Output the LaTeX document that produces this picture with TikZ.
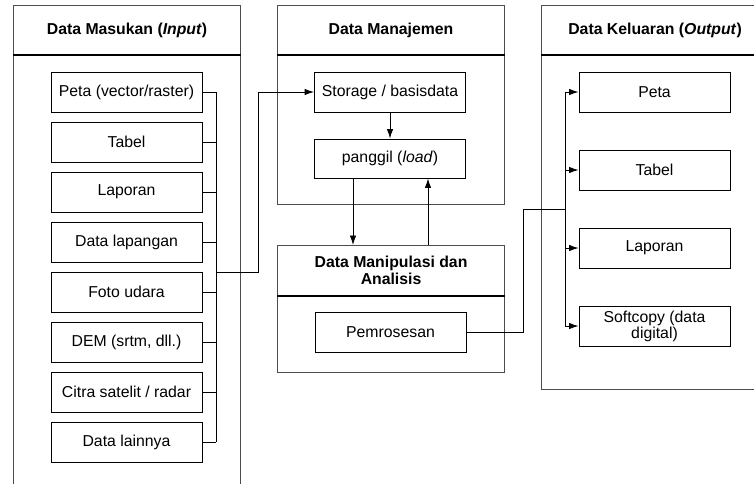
\documentclass[tikz,border=0pt]{standalone}
\usepackage{fontspec}
\setmainfont{Liberation Sans}
\usetikzlibrary{arrows.meta,calc}

\begin{document}
\begin{tikzpicture}[x=1pt,y=-1pt,
    panel/.style={draw=black!70,line width=1.1pt,inner sep=0pt,anchor=north west},
    headline/.style={line width=1.2pt},
    databox/.style={draw,line width=0.9pt,minimum width=151pt,minimum height=40pt,inner sep=1pt,align=center,font=\fontsize{15.8}{16}\selectfont},
    head/.style={font=\bfseries\fontsize{15.8}{17.5}\selectfont,align=center},
    link/.style={line width=0.9pt},
    arr/.style={link,-{Latex[length=9.5pt,width=6.5pt]}}]
                \useasboundingbox (0,0) rectangle (754,483);
                \clip (0,0) rectangle (754,483);
                %Panels
                \node[panel,minimum width=227pt,minimum height=500pt] (pin) at (13,5) {};
                \node[panel,minimum width=227pt,minimum height=199pt] (pman) at (277,5) {};
                \node[panel,minimum width=227pt,minimum height=127pt] (pmani) at (277,245) {};
                \node[panel,minimum width=227pt,minimum height=384pt] (pout) at (541,5) {};
                \foreach \p/\h in {pin/50,pman/50,pmani/51,pout/50}
                    \draw[headline] ($(\p.north west)+(0,\h)$) -- ($(\p.north east)+(0,\h)$);
                %Headers
                \node[head] (hin) at ($(pin.north)+(0,25)$) {Data Masukan (\textit{Input})};
                \node[head] (hman) at ($(pman.north)+(0,25)$) {Data Manajemen};
                \node[head] (hmani) at ($(pmani.north)+(0,25.5)$) {Data Manipulasi dan\\Analisis};
                \node[head] (hout) at ($(pout.north)+(0,25)$) {Data Keluaran (\textit{Output})};
                %Input
                \coordinate (busin) at (216,0);
                \foreach \t [count=\i] in {Peta (vector/raster), Tabel, Laporan, Data lapangan, Foto udara, {DEM (srtm, dll.)}, Citra satelit / radar, Data lainnya} {
                    \node[databox] (in\i) at (126.5,42+50*\i) {\t};
                    \draw[link] (in\i.east) -- (in\i.east -| busin);
                }
                \draw[link] (in1.east -| busin) -- (in8.east -| busin);
                %Input to storage
                \coordinate (jin) at (216,272);
                \coordinate (jup) at (258,272);
                \node[databox] (store) at (390,92) {Storage / basisdata};
                \draw[arr] (jin) -- (jup) |- (store.west);
                %Manajemen
                \node[databox,minimum height=39pt] (load) at (390,158.5) {panggil (\textit{load})};
                \draw[arr] (store) -- (load);
                \coordinate (dn) at (353,0);
                \coordinate (up) at (428,0);
                \draw[arr] (load.south -| dn) -- (pmani.north -| dn);
                \draw[arr] (pmani.north -| up) -- (load.south -| up);
                %Manipulasi
                \node[databox] (proc) at (390.5,332) {Pemrosesan};
                %Output
                \coordinate (busout) at (565,0);
                \coordinate (jout) at (523,209);
                \foreach \t [count=\i] in {Peta, Tabel, Laporan, {Softcopy (data\\digital)}} {
                    \node[databox] (out\i) at (654.5,14+78*\i) {\t};
                    \draw[arr] (out\i.west -| busout) -- (out\i.west);
                }
                \draw[link] (out1.west -| busout) -- (out4.west -| busout);
                \draw[link] (proc.east) -| (jout) -- (jout -| busout);
\end{tikzpicture}
\end{document}
